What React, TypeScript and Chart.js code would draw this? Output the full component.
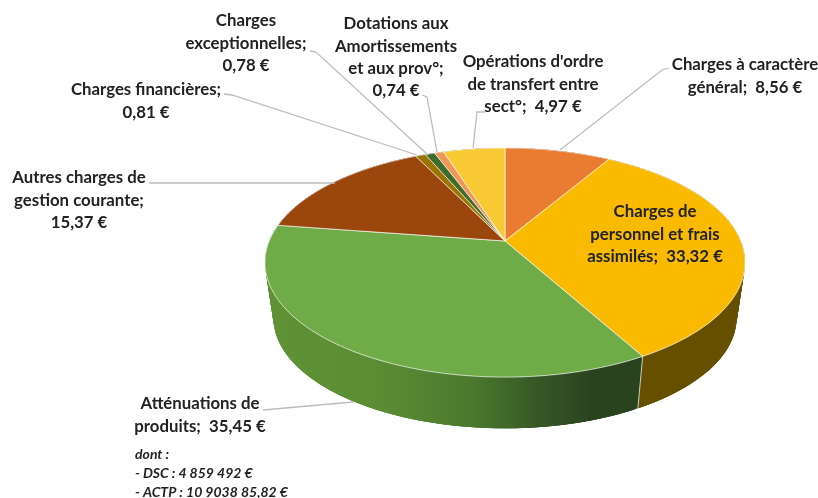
import React, { useEffect, useRef } from "react";
import { Chart, registerables } from "chart.js";

Chart.register(...registerables);

const categories = [
  "Charges à caractère général",
  "Charges de personnel et frais assimilés",
  "Atténuations de produits",
  "Autres charges de gestion courante",
  "Charges financières",
  "Charges exceptionnelles",
  "Dotations aux Amortissements et aux prov°",
  "Opérations d'ordre de transfert entre sect°",
];
const values = [8.56, 33.32, 35.45, 15.37, 0.81, 0.78, 0.74, 4.97];
const labelTexts = [
  ["Charges à caractère", "général;  {v}"],
  ["Charges de", "personnel et frais", "assimilés;  {v}"],
  ["Atténuations de", "produits;  {v}"],
  ["Autres charges de", "gestion courante;", "{v}"],
  ["Charges financières;", "{v}"],
  ["Charges", "exceptionnelles;", "{v}"],
  ["Dotations aux", "Amortissements", "et aux prov°;", "{v}"],
  ["Opérations d'ordre", "de transfert entre", "sect°;  {v}"],
];
const noteLines = ["dont :", "- DSC : 4 859 492 €", "- ACTP : 10 9038 85,82 €"];

const topColors = ["#E97C30", "#FABA00", "#6FAB47", "#9A460D", "#9C7400", "#3F6B2B", "#EF9659", "#F9C934"];
const sideColors = ["#7A3F18", "#665000", "#4F8232", "#4F2408", "#4F3B00", "#20361A", "#7A4C2C", "#7F661A"];

// Layout of the text: centre x and first-line y, plus leader polyline, per slice.
const labelLayout = [
  { x: 745, y: 65, line: [[669, 68], [662, 70], [560, 150]] },
  { x: 655, y: 212, line: [] },
  { x: 200, y: 404, line: [[263, 410], [353, 402]] },
  { x: 79, y: 178, line: [[149, 183], [335, 183]] },
  { x: 146, y: 90, line: [[224, 94], [232, 95], [417, 155]] },
  { x: 246, y: 21, line: [[310, 51], [316, 52], [428, 155]] },
  { x: 396, y: 24, line: [[422, 95], [427, 97], [437, 152]] },
  { x: 533, y: 62, line: [[485, 112], [477, 112], [473, 148]] },
];

// Perspective view of the pie disc
const VIEW = { cx: 505, cy: 241, rx: 235.7, ry: 110.5, p: 0.188, dy: 56, s: 0.965 };

function projectTop(t: number) {
  const u = Math.sin(t), v = -Math.cos(t), w = 1 - VIEW.p * v;
  return [VIEW.cx + (VIEW.rx * u) / w, VIEW.cy + (VIEW.ry * v) / w];
}
function projectBottom(t: number) {
  const u = Math.sin(t), v = -Math.cos(t), w = 1 - VIEW.p * v;
  return [VIEW.cx + (VIEW.s * VIEW.rx * u) / w, VIEW.cy + VIEW.dy + (VIEW.s * VIEW.ry * v) / w];
}

const pie3d = {
  id: "pie3d",
  beforeDatasetsDraw(chart: any) {
    const ctx: CanvasRenderingContext2D = chart.ctx;
    const arcs = chart.getDatasetMeta(0).data as any[];
    const slices = arcs.map((a, i) => ({
      i,
      a0: a.startAngle + Math.PI / 2,
      a1: a.endAngle + Math.PI / 2,
      color: a.options.backgroundColor,
    }));
    const steps = (s: any) => Math.max(2, Math.ceil((s.a1 - s.a0) / 0.012));
    const mid = (s: any) => -Math.cos((s.a0 + s.a1) / 2);

    ctx.save();
    // Side wall, rear slices first
    [...slices].sort((p, q) => mid(p) - mid(q)).forEach((s) => {
      let fill: any = sideColors[s.i];
      if (s.i === 2) {
        const g = ctx.createLinearGradient(267, 0, 636, 0);
        g.addColorStop(0, "#5F9136");
        g.addColorStop(0.3, "#5B8D34");
        g.addColorStop(0.55, "#4B7A2E");
        g.addColorStop(0.72, "#385A26");
        g.addColorStop(0.88, "#2A431F");
        g.addColorStop(1, "#2A431F");
        fill = g;
      }
      ctx.fillStyle = fill;
      const n = steps(s);
      for (let k = 0; k < n; k++) {
        const t0 = s.a0 + ((s.a1 - s.a0) * k) / n;
        const t1 = s.a0 + ((s.a1 - s.a0) * Math.min(n, k + 3)) / n;
        const A = projectTop(t0), B = projectTop(t1), C = projectBottom(t1), D = projectBottom(t0);
        ctx.beginPath();
        ctx.moveTo(A[0], A[1]);
        ctx.lineTo(B[0], B[1]);
        ctx.lineTo(C[0], C[1]);
        ctx.lineTo(D[0], D[1]);
        ctx.closePath();
        ctx.fill();
      }
    });

    // Edge between the two front slices on the wall
    const edge = slices[2].a0;
    const T = projectTop(edge), Bm = projectBottom(edge);
    ctx.strokeStyle = "rgba(255,255,255,0.7)";
    ctx.lineWidth = 1;
    ctx.beginPath();
    ctx.moveTo(T[0], T[1]);
    ctx.lineTo(Bm[0], Bm[1]);
    ctx.stroke();

    // Top face
    slices.forEach((s) => {
      const n = steps(s);
      ctx.beginPath();
      ctx.moveTo(VIEW.cx, VIEW.cy);
      for (let k = 0; k <= n; k++) {
        const P = projectTop(s.a0 + ((s.a1 - s.a0) * k) / n);
        ctx.lineTo(P[0], P[1]);
      }
      ctx.closePath();
      ctx.fillStyle = s.color;
      ctx.fill();
      ctx.strokeStyle = "rgba(255,255,255,0.65)";
      ctx.lineWidth = 1;
      ctx.stroke();
    });
    ctx.restore();

    // Leader lines
    ctx.save();
    ctx.strokeStyle = "#BDBDBD";
    ctx.lineWidth = 1.3;
    labelLayout.forEach((l) => {
      if (!l.line.length) return;
      ctx.beginPath();
      l.line.forEach((p, k) => (k ? ctx.lineTo(p[0], p[1]) : ctx.moveTo(p[0], p[1])));
      ctx.stroke();
    });

    // Labels
    ctx.fillStyle = "#222";
    ctx.textAlign = "center";
    ctx.textBaseline = "middle";
    ctx.font = "bold 16.8px Lato";
    labelTexts.forEach((lines, i) => {
      const text = values[i].toFixed(2).replace(".", ",") + " €";
      lines.forEach((ln, k) => {
        ctx.fillText(ln.replace("{v}", text), labelLayout[i].x, labelLayout[i].y + k * 22.3);
      });
    });
    ctx.textAlign = "left";
    ctx.font = "italic bold 14px Lato";
    noteLines.forEach((ln, k) => ctx.fillText(ln, 135, 454 + k * 19));
    ctx.restore();

    return false;
  },
};

export default function App() {
  const ref = useRef<HTMLCanvasElement>(null);
  useEffect(() => {
    const chart = new Chart(ref.current!, {
      type: "pie",
      data: {
        labels: categories,
        datasets: [{ data: values, backgroundColor: topColors, borderWidth: 0 }],
      },
      options: {
        responsive: false,
        animation: false,
        plugins: { legend: { display: false }, tooltip: { enabled: false } },
      },
      plugins: [pie3d],
    } as any);
    return () => chart.destroy();
  }, []);
  return (
    <div style={{ position: "absolute", left: 0, top: 0, width: 818, height: 498, background: "#fff", overflow: "hidden" }}>
      <canvas ref={ref} width={818} height={498} style={{ display: "block", filter: "blur(0.6px)" }} />
    </div>
  );
}
